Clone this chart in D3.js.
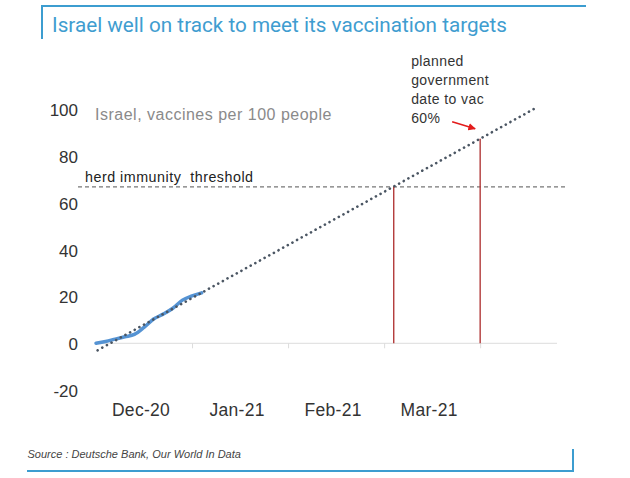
<!DOCTYPE html>
<html>
<head>
<meta charset="utf-8">
<script src="https://cdn.jsdelivr.net/npm/d3@7"></script>
<style>
  html, body { margin: 0; padding: 0; background: #fff; }
  svg { display: block; }
</style>
</head>
<body>
<svg id="chart" width="630" height="478"></svg>
<script>
// ---------------- data ----------------
const title = "Israel well on track to meet its vaccination targets";
const source = "Source : Deutsche Bank, Our World In Data";
const seriesLabel = "Israel, vaccines per 100 people";
const thresholdLabel = "herd immunity  threshold";
const annotationLines = ["planned", "government", "date to vac", "60%"];

// x in days from start of Dec-20 axis category
const actualDays   = [0, 3, 6, 9, 12, 15, 18, 21, 24, 27, 30, 33];
const actualValues = [0.0, 0.8, 1.8, 2.8, 3.8, 6.8, 10.4, 12.5, 15.0, 18.5, 20.3, 21.6];

const trendDays   = [0.5, 137];
const trendValues = [-3, 100.5];

const thresholdValue = 67;
const milestoneDays = [93, 120];

const monthLabels = ["Dec-20", "Jan-21", "Feb-21", "Mar-21"];
const monthStarts = [0, 30, 60, 90, 120];
const yTicks = [-20, 0, 20, 40, 60, 80, 100];

// ---------------- scales ----------------
const svg = d3.select("#chart");
const x = d3.scaleLinear().domain([0, 144]).range([96, 557]);
const y = d3.scaleLinear().domain([-20, 100]).range([390, 109.8]);

const trendAt = d => trendValues[0] + (d - trendDays[0]) * (trendValues[1] - trendValues[0]) / (trendDays[1] - trendDays[0]);
const bodyFont = "Liberation Sans, Arial, sans-serif";

// ---------------- frame / title ----------------
const blue = "#3c9dd0";
svg.append("line").attr("x1", 41.5).attr("x2", 586).attr("y1", 6).attr("y2", 6)
  .attr("stroke", blue).attr("stroke-width", 2);
svg.append("line").attr("x1", 42).attr("x2", 42).attr("y1", 5).attr("y2", 39)
  .attr("stroke", blue).attr("stroke-width", 2);
svg.append("text").attr("x", 52).attr("y", 31.5)
  .attr("font-family", "Roboto").attr("font-size", 20.7).attr("fill", "#3f9dd0")
  .text(title);

svg.append("line").attr("x1", 27).attr("x2", 574).attr("y1", 471).attr("y2", 471)
  .attr("stroke", blue).attr("stroke-width", 2);
svg.append("line").attr("x1", 573).attr("x2", 573).attr("y1", 449).attr("y2", 472)
  .attr("stroke", blue).attr("stroke-width", 2);
svg.append("text").attr("x", 27.5).attr("y", 457.5)
  .attr("font-family", bodyFont).attr("font-style", "italic")
  .attr("font-size", 11).attr("fill", "#444").text(source);

// ---------------- axes ----------------
const yAxis = d3.axisLeft(y).tickValues(yTicks).tickSize(0).tickPadding(0)
  .tickFormat(d => String(d));
const gy = svg.append("g").attr("transform", "translate(78,0)").call(yAxis);
gy.select(".domain").remove();
gy.selectAll("text").attr("font-family", bodyFont).attr("font-size", 17)
  .attr("fill", "#333").attr("dy", "0.36em");

// zero line
svg.append("line").attr("x1", x(0)).attr("x2", x(144)).attr("y1", y(0)).attr("y2", y(0))
  .attr("stroke", "#dcdcdc").attr("stroke-width", 1);

const xTickAxis = d3.axisBottom(x).tickValues(monthStarts.slice(1)).tickSize(5).tickFormat("");
const gx = svg.append("g").attr("transform", `translate(0,${y(0)})`).call(xTickAxis);
gx.select(".domain").remove();
gx.selectAll("line").attr("stroke", "#dcdcdc");

svg.append("g").selectAll("text").data(monthLabels).join("text")
  .attr("x", (d, i) => x((monthStarts[i] + monthStarts[i + 1]) / 2) - 3)
  .attr("y", 416)
  .attr("text-anchor", "middle")
  .attr("font-family", bodyFont).attr("font-size", 17.5).attr("fill", "#333")
  .attr("letter-spacing", 0.3)
  .text(d => d);

// ---------------- threshold ----------------
svg.append("line").attr("x1", 78).attr("x2", 565)
  .attr("y1", y(thresholdValue)).attr("y2", y(thresholdValue))
  .attr("stroke", "#777").attr("stroke-width", 1.2).attr("stroke-dasharray", "4,3");
svg.append("text").attr("x", 85).attr("y", y(thresholdValue) - 4.5)
  .attr("font-family", bodyFont).attr("font-size", 14.3).attr("fill", "#222")
  .attr("letter-spacing", 0.5)
  .style("white-space", "pre")
  .text(thresholdLabel);

// ---------------- milestones ----------------
svg.append("g").selectAll("line").data(milestoneDays).join("line")
  .attr("x1", d => x(d)).attr("x2", d => x(d))
  .attr("y1", y(0)).attr("y2", d => y(trendAt(d)))
  .attr("stroke", "#b23a3a").attr("stroke-width", 1.4);

// ---------------- series ----------------
const line = d3.line().x(d => x(d[0])).y(d => y(d[1])).curve(d3.curveMonotoneX);
svg.append("path").datum(actualDays.map((d, i) => [d, actualValues[i]]))
  .attr("d", line).attr("fill", "none").attr("stroke", "#5593d3")
  .attr("stroke-width", 3.5).attr("stroke-linecap", "round");

svg.append("path").datum(trendDays.map((d, i) => [d, trendValues[i]]))
  .attr("d", d3.line().x(d => x(d[0])).y(d => y(d[1])))
  .attr("fill", "none").attr("stroke", "#4b5663")
  .attr("stroke-width", 2.6).attr("stroke-linecap", "round")
  .attr("stroke-dasharray", "0.1,5.2");

// ---------------- labels ----------------
svg.append("text").attr("x", 95).attr("y", y(100) + 10)
  .attr("font-family", bodyFont).attr("font-size", 16).attr("fill", "#8a8a8a")
  .attr("letter-spacing", 0.5)
  .text(seriesLabel);

const px = x(milestoneDays[1]), py = y(trendAt(milestoneDays[1]));
svg.append("g").selectAll("text").data(annotationLines).join("text")
  .attr("x", px - 69).attr("y", (d, i) => py - 73 + i * 19)
  .attr("font-family", bodyFont).attr("font-size", 14).attr("fill", "#333")
  .attr("letter-spacing", 0.4)
  .text(d => d);

svg.append("defs").append("marker").attr("id", "arr")
  .attr("viewBox", "0 0 10 10").attr("refX", 9).attr("refY", 5)
  .attr("markerWidth", 5).attr("markerHeight", 5).attr("orient", "auto")
  .append("path").attr("d", "M0,0 L10,5 L0,10 z").attr("fill", "#e31b1b");
svg.append("line").attr("x1", px - 28).attr("y1", py - 17)
  .attr("x2", px - 5).attr("y2", py - 10)
  .attr("stroke", "#e31b1b").attr("stroke-width", 1.5).attr("marker-end", "url(#arr)");
</script>
</body>
</html>
